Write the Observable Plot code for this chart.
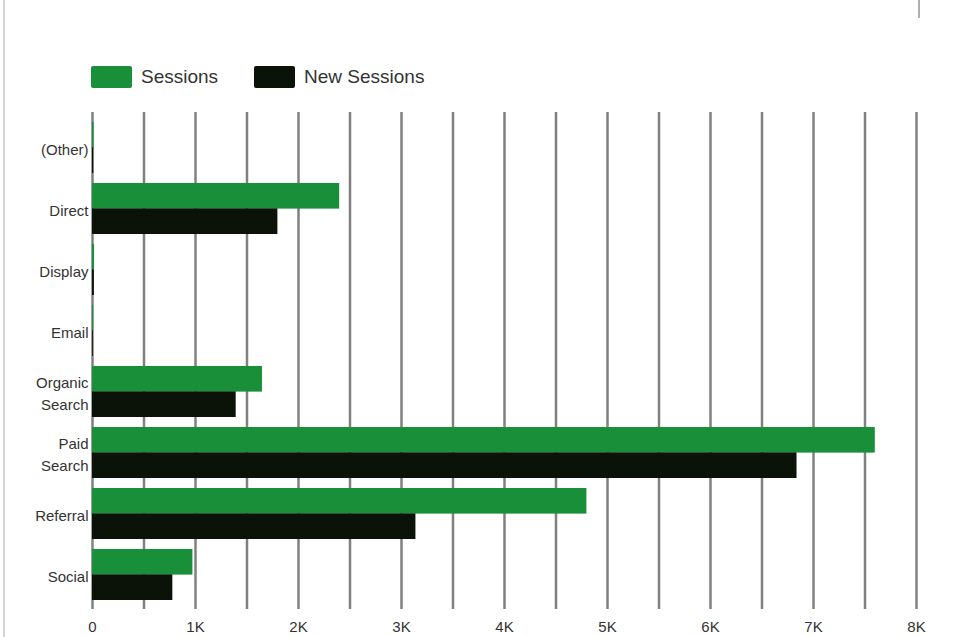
<!DOCTYPE html>
<html><head><meta charset="utf-8">
<script src="https://cdn.jsdelivr.net/npm/d3@7"></script>
<script src="https://cdn.jsdelivr.net/npm/@observablehq/plot@0.6"></script>
<style>
body{margin:0;background:#fff;font-family:"Liberation Sans",Arial,sans-serif;}
#wrap{position:relative;width:957px;height:637px;overflow:hidden;background:#fff;}
#legend{position:relative;height:100px;}
.sw{position:absolute;top:66px;width:41px;height:22px;border-radius:2px;}
.lt{position:absolute;top:66px;line-height:22px;font-size:19px;color:#333;white-space:nowrap;}
.edge{position:absolute;}
</style></head><body>
<div id="wrap">
  <div class="edge" style="left:3px;top:0;width:2px;height:637px;background:#d4d4d4"></div>
  <div class="edge" style="left:918px;top:0;width:2px;height:18px;background:#b0b0b0"></div>
  <div id="legend">
    <div class="sw" style="left:91px;background:#188f38"></div>
    <div class="lt" style="left:141px">Sessions</div>
    <div class="sw" style="left:254px;background:#0b1208"></div>
    <div class="lt" style="left:304px">New Sessions</div>
  </div>
  <div id="chart"></div>
</div>
<script>
const categories = ["(Other)", "Direct", "Display", "Email", "Organic Search", "Paid Search", "Referral", "Social"];
const sessions = [15, 2400, 20, 10, 1650, 7600, 4800, 975];
const newSessions = [12, 1800, 18, 8, 1395, 6840, 3140, 780];
const xTicks = [0, 1000, 2000, 3000, 4000, 5000, 6000, 7000, 8000];
const xTickLabels = ["0", "1K", "2K", "3K", "4K", "5K", "6K", "7K", "8K"];
const gridTicks = [0, 500, 1000, 1500, 2000, 2500, 3000, 3500, 4000, 4500, 5000, 5500, 6000, 6500, 7000, 7500, 8000];

const green = "#188f38";
const black = "#0b1208";

const data = categories.map((c, i) => ({category: c, sessions: sessions[i], newSessions: newSessions[i]}));

const height = 537, marginTop = 12, marginBottom = 28;
const pInner = 0.17, pOuter = 0.147;
const step = (height - marginTop - marginBottom) / (categories.length - pInner + 2 * pOuter);
const half = step * (1 - pInner) / 2;

const chart = Plot.plot({
  width: 957,
  height,
  marginLeft: 92,
  marginRight: 41,
  marginTop,
  marginBottom,
  style: {fontFamily: "'Liberation Sans', Arial, sans-serif", fontSize: "15px", color: "#333", background: "transparent"},
  x: {domain: [0, 8000]},
  y: {domain: categories, paddingInner: pInner, paddingOuter: pOuter},
  marks: [
    Plot.gridX(gridTicks, {stroke: "#808080", strokeWidth: 2.5, strokeOpacity: 1}),
    Plot.barX(data, {x: "sessions", y: "category", fill: green, insetBottom: half}),
    Plot.barX(data, {x: "newSessions", y: "category", fill: black, insetTop: half}),
    Plot.axisY({tickSize: 0, tickPadding: 4, fontSize: 15, lineHeight: 1.45, label: null,
      tickFormat: d => d.replace(" ", "\n")}),
    Plot.axisX(xTicks, {tickSize: 0, tickPadding: 12, fontSize: 15, label: null,
      tickFormat: d => xTickLabels[xTicks.indexOf(d)]})
  ]
});
document.getElementById("chart").appendChild(chart);
</script>
</body></html>
